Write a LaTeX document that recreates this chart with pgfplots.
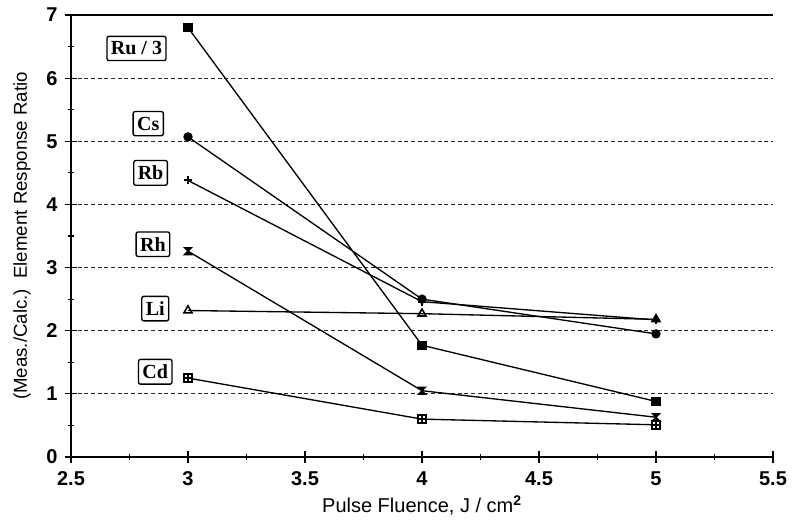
\documentclass[border=0pt]{standalone}
\usepackage{fontspec}
\setmainfont{Liberation Serif}
\setsansfont{Liberation Sans}
\usepackage{pgfplots}
\pgfplotsset{compat=1.18}

\pgfdeclareplotmark{boxcross}{%
  \pgfpathrectangle{\pgfqpoint{-\pgfplotmarksize}{-\pgfplotmarksize}}{\pgfqpoint{2\pgfplotmarksize}{2\pgfplotmarksize}}%
  \pgfpathmoveto{\pgfqpoint{-\pgfplotmarksize}{0pt}}\pgfpathlineto{\pgfqpoint{\pgfplotmarksize}{0pt}}%
  \pgfpathmoveto{\pgfqpoint{0pt}{-\pgfplotmarksize}}\pgfpathlineto{\pgfqpoint{0pt}{\pgfplotmarksize}}%
  \pgfusepathqstroke}
\pgfdeclareplotmark{hourglass}{%
  \pgfpathmoveto{\pgfqpoint{-\pgfplotmarksize}{\pgfplotmarksize}}%
  \pgfpathlineto{\pgfqpoint{\pgfplotmarksize}{\pgfplotmarksize}}%
  \pgfpathlineto{\pgfqpoint{-\pgfplotmarksize}{-\pgfplotmarksize}}%
  \pgfpathlineto{\pgfqpoint{\pgfplotmarksize}{-\pgfplotmarksize}}%
  \pgfpathclose
  \pgfusepathqfillstroke}

\begin{document}
\begin{tikzpicture}
\path[use as bounding box] (-53.25pt,-46.5pt) rectangle (552pt,342.75pt);
\begin{axis}[
  at={(0,0)}, anchor=south west,
  scale only axis, width=526.5pt, height=331.5pt,
  xmin=2.5, xmax=5.5, ymin=0, ymax=7,
  axis x line=bottom, axis y line=left,
  axis line style={line width=1.1pt, -},
  xtick={2.5,3,...,5.5}, ytick={0,1,...,6},
  extra y ticks={7}, extra y tick style={grid style={solid, line width=1pt, black}},
  minor xtick={2.75,3.25,...,5.25}, minor ytick={0.5,1.5,...,6.5},
  tick align=center,
  major tick length=9pt, minor tick length=5pt,
  tick style={line width=0.9pt, black},
  ymajorgrids,
  grid style={densely dashed, line width=0.8pt, black!85},
  xticklabels={2.5,3,3.5,4,4.5,5,5.5},
  yticklabels={0,1,2,3,4,5,6},
  extra y tick labels={7},
  /pgf/number format/assume math mode=true,
  tick label style={font=\sffamily\bfseries\fontsize{15}{15}\selectfont},
  xticklabel style={yshift=-3pt},
  yticklabel style={xshift=-2pt},
  xlabel={Pulse Fluence, J / cm\textsuperscript{\bfseries 2}},
  ylabel={(Meas./Calc.)\ \ Element Response Ratio},
  xlabel style={font=\sffamily\fontsize{15}{15}\selectfont, at={(axis description cs:0.5,0)}, anchor=center, yshift=-36pt},
  ylabel style={font=\sffamily\fontsize{14}{14}\selectfont, yshift=-4pt},
  every axis plot/.append style={black, line width=1pt, mark size=3pt},
  clip=false,
]
% Ru/3
\addplot[mark=square*] coordinates {(3,6.80) (4,1.77) (5,0.88)};
% Cs
\addplot[mark=*] coordinates {(3,5.07) (4,2.50) (5,1.95)};
% Rb
\addplot[mark=+, mark options={line width=1.5pt}] coordinates {(3,4.38) (4,2.46) (5,2.17)};
% Rh
\addplot[mark=hourglass, mark size=2.6pt] coordinates {(3,3.26) (4,1.05) (5,0.63)};
% Li
\addplot[mark=triangle, mark options={fill=white, line width=1.2pt}, mark size=3.5pt] coordinates {(3,2.32) (4,2.27) (5,2.18)};
% Cd
\addplot[mark=boxcross, mark options={line width=1.5pt}, mark size=2.8pt] coordinates {(3,1.25) (4,0.60) (5,0.51)};

\tikzset{lbl/.style={draw, line width=1pt, rounded corners=1.5pt, fill=white, inner xsep=3pt, inner ysep=4pt, font=\bfseries\fontsize{15}{15}\selectfont}}
\node[lbl] at (axis cs:2.78,6.47) {Ru / 3};
\node[lbl] at (axis cs:2.83,5.28) {Cs};
\node[lbl] at (axis cs:2.84,4.50) {Rb};
\node[lbl] at (axis cs:2.85,3.37) {Rh};
\node[lbl] at (axis cs:2.86,2.35) {Li};
\node[lbl] at (axis cs:2.86,1.35) {Cd};
\end{axis}
\end{tikzpicture}
\end{document}
